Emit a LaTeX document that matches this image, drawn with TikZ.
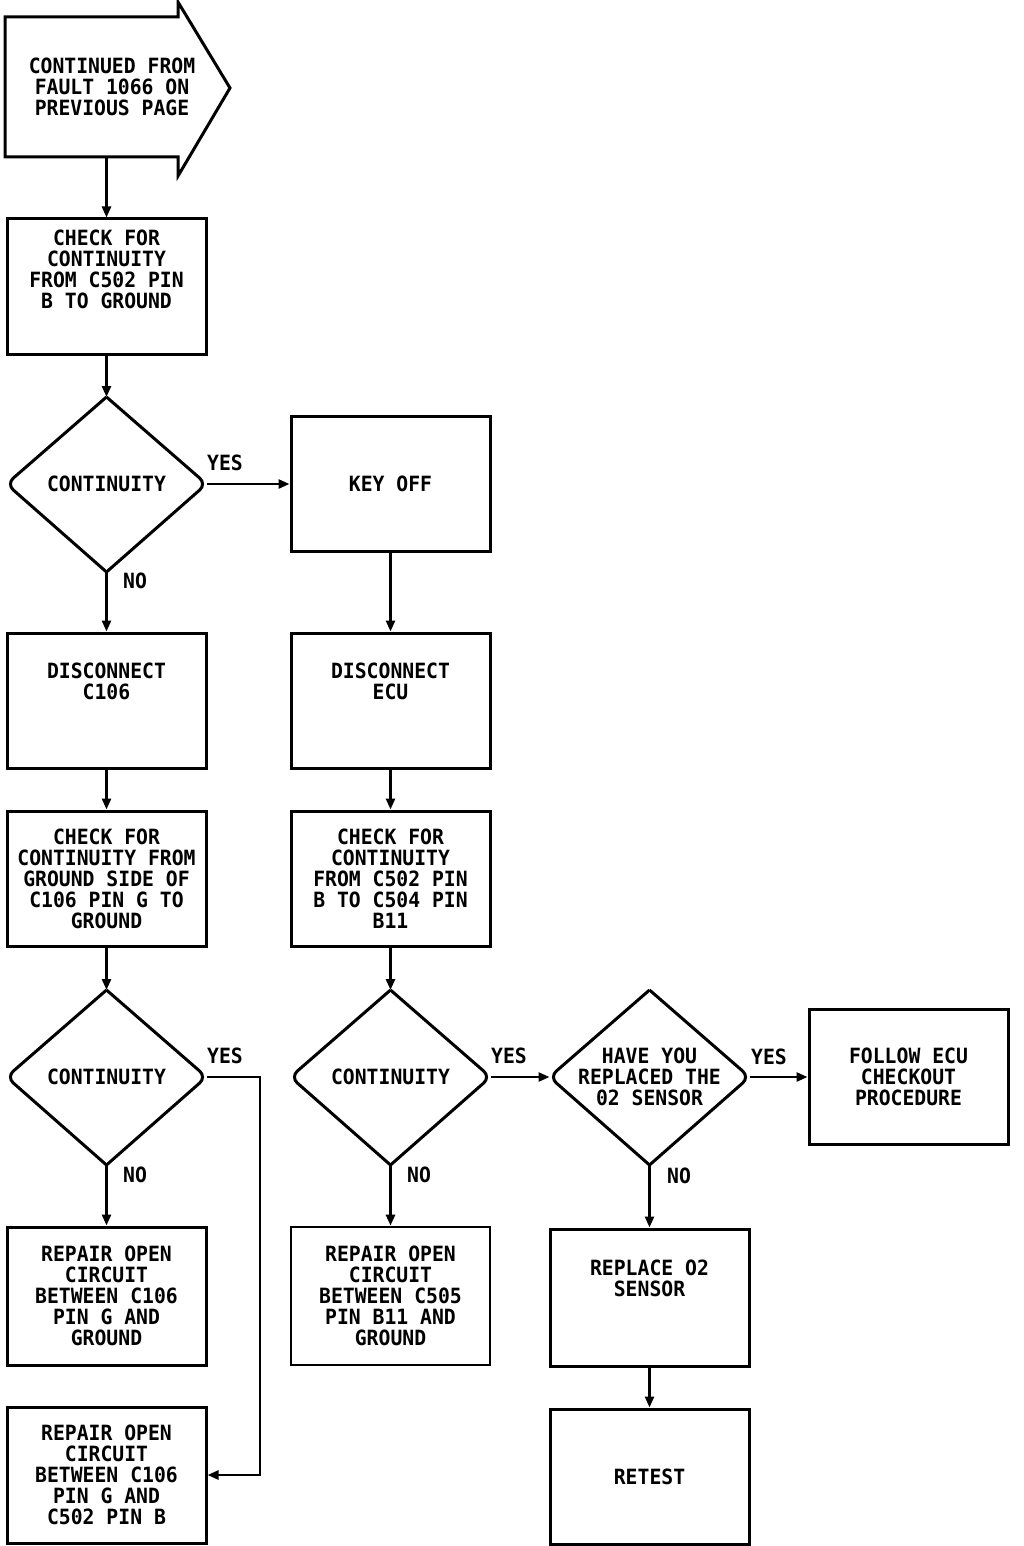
\documentclass[tikz,border=0pt]{standalone}
\usepackage{fontspec}
\newfontfamily\flowfont[FakeStretch=0.94]{DejaVu Sans Mono Bold}
\usetikzlibrary{arrows.meta}
\tikzset{
  box/.style={draw, line width=3pt, minimum width=199pt, minimum height=135pt, inner sep=0pt, align=center},
  txt/.style={align=center, inner sep=0pt},
  conn/.style={line width=2.6pt, -{Triangle[length=11pt,width=9pt]}},
  lbl/.style={inner sep=0pt, anchor=west},
  outline/.style={line width=3pt, line join=miter}
}
\newcommand\mydiamond[4]{%
  \node[txt] (#1) at (#2,#3) {#4};
  \coordinate (#1-n) at (#2,{#3-87});
  \coordinate (#1-s) at (#2,{#3+88});
  \coordinate (#1-e) at ({#2+100},#3);
  \coordinate (#1-w) at ({#2-100},#3);
  \draw[outline, rounded corners=9pt] (#1-n) -- (#1-e) -- (#1-s);
  \draw[outline, rounded corners=9pt] (#1-s) -- (#1-w) -- (#1-n);
}
\begin{document}
\begin{tikzpicture}[x=1pt, y=-1pt, font=\flowfont\fontsize{21pt}{21pt}\selectfont]
\useasboundingbox (0,0) rectangle (1024,1546);

% start arrow shape
\node[txt] (start) at (112,87) {CONTINUED FROM\\FAULT 1066 ON\\PREVIOUS PAGE};
\coordinate (startb) at (106.5,157);
\draw[outline] (5,17) -- (178,17) -- (178,2) -- (230,88) -- (178,176) -- (178,157) -- (5,157) -- cycle;

% boxes
\node[box] (b1) at (106.5,286.5) {CHECK FOR\\CONTINUITY\\FROM C502 PIN\\B TO GROUND\\[14pt]};
\node[box] (koff) at (390.5,484) {KEY OFF};
\node[box] (dc106) at (106.5,700.5) {DISCONNECT\\C106\\[18pt]};
\node[box] (decu) at (390.5,700.5) {DISCONNECT\\ECU\\[18pt]};
\node[box] (chk1) at (106.5,878.5) {CHECK FOR\\CONTINUITY FROM\\GROUND SIDE OF\\C106 PIN G TO\\GROUND};
\node[box] (chk2) at (390.5,878.5) {CHECK FOR\\CONTINUITY\\FROM C502 PIN\\B TO C504 PIN\\B11};
\node[box] (fecu) at (908.5,1077) {FOLLOW ECU\\CHECKOUT\\PROCEDURE};
\node[box, minimum height=138pt] (rep1) at (106.5,1296) {REPAIR OPEN\\CIRCUIT\\BETWEEN C106\\PIN G AND\\GROUND};
\node[box, minimum height=138pt, line width=2.7pt] (rep2) at (390.5,1296) {REPAIR OPEN\\CIRCUIT\\BETWEEN C505\\PIN B11 AND\\GROUND};
\node[box, minimum height=137pt] (repo2) at (649.5,1297.5) {REPLACE O2\\SENSOR\\[18pt]};
\node[box] (retest) at (649.5,1476.5) {RETEST};
\node[box, minimum height=136pt] (rep3) at (106.5,1475) {REPAIR OPEN\\CIRCUIT\\BETWEEN C106\\PIN G AND\\C502 PIN B};

% diamonds
\mydiamond{d1}{106.5}{484}{CONTINUITY}
\mydiamond{d2}{106.5}{1077}{CONTINUITY}
\mydiamond{d3}{390.5}{1077}{CONTINUITY}
\mydiamond{d4}{649.5}{1077}{HAVE YOU\\REPLACED THE\\02 SENSOR}

% connectors
\draw[conn] (startb) -- (b1.north);
\draw[conn] (b1.south) -- (d1-n);
\draw[conn] (d1-e) -- (koff.west);
\draw[conn] (d1-s) -- (dc106.north);
\draw[conn] (koff.south) -- (decu.north);
\draw[conn] (dc106.south) -- (chk1.north);
\draw[conn] (decu.south) -- (chk2.north);
\draw[conn] (chk1.south) -- (d2-n);
\draw[conn] (chk2.south) -- (d3-n);
\draw[conn] (d2-s) -- (rep1.north);
\draw[conn] (d2-e) -- (260,1077) -- (260,1475) -- (rep3.east);
\draw[conn] (d3-s) -- (rep2.north);
\draw[conn] (d3-e) -- (d4-w);
\draw[conn] (d4-e) -- (fecu.west);
\draw[conn] (d4-s) -- (repo2.north);
\draw[conn] (repo2.south) -- (retest.north);

% labels
\node[lbl] (y1) at (207,463) {YES};
\node[lbl] (n1) at (123,581) {NO};
\node[lbl] (y2) at (207,1056) {YES};
\node[lbl] (n2) at (123,1175) {NO};
\node[lbl] (y3) at (491,1056) {YES};
\node[lbl] (n3) at (407,1175) {NO};
\node[lbl] (y4) at (751,1057) {YES};
\node[lbl] (n4) at (667,1176) {NO};
\end{tikzpicture}
\end{document}
